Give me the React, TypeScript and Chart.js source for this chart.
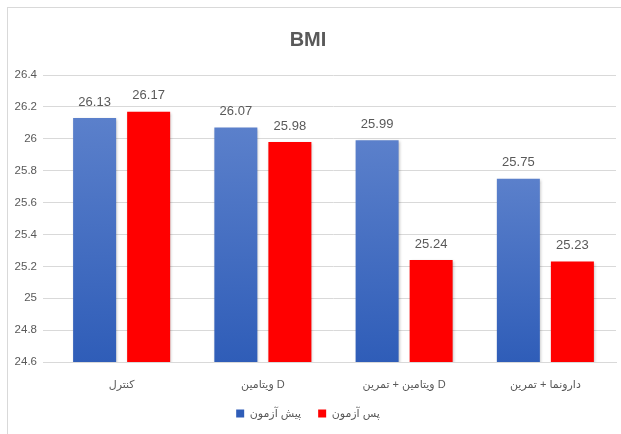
import React, { useEffect, useRef } from "react";
import { Chart, registerables } from "chart.js";

Chart.register(...registerables);

const LRM = "\u200E";
const categories = [
  LRM + "کنترل",
  LRM + "ویتامین D",
  LRM + "تمرین" + LRM + " + ویتامین D",
  LRM + "تمرین" + LRM + " + دارونما",
];
const seriesNames = ["پیش آزمون", "پس آزمون"];
const preTest = [26.13, 26.07, 25.99, 25.75];
const postTest = [26.17, 25.98, 25.24, 25.23];
const yMin = 24.6;
const yMax = 26.4;
const yStep = 0.2;

const FONT = "'Liberation Sans', 'DejaVu Sans', Arial, sans-serif";
const TEXT = "#595959";
const GRID = "#d9d9d9";

const blueGradient = (ctx: any) => {
  const chart = ctx.chart;
  const area = chart.chartArea;
  if (!area || ctx.raw === undefined || !chart.scales?.y) return "#4472c4";
  const top = chart.scales.y.getPixelForValue(ctx.raw);
  const bottom = area.bottom;
  if (!isFinite(top) || !isFinite(bottom) || bottom <= top) return "#4472c4";
  const g = chart.ctx.createLinearGradient(0, top, 0, bottom);
  g.addColorStop(0, "#5b80cb");
  g.addColorStop(1, "#2f5db8");
  return g;
};

const shadowPlugin = {
  id: "barShadow",
  beforeDatasetsDraw(chart: any) {
    const c = chart.ctx;
    c.save();
    c.shadowColor = "rgba(0,0,0,0.28)";
    c.shadowBlur = 3;
    c.shadowOffsetX = 1;
    c.shadowOffsetY = 1;
  },
  afterDatasetsDraw(chart: any) {
    chart.ctx.restore();
  },
};

const valueLabels = {
  id: "valueLabels",
  afterDatasetsDraw(chart: any) {
    const c = chart.ctx;
    c.save();
    c.font = `13px ${FONT}`;
    c.fillStyle = "#595959";
    c.textAlign = "center";
    c.textBaseline = "middle";
    chart.data.datasets.forEach((ds: any, di: number) => {
      const meta = chart.getDatasetMeta(di);
      meta.data.forEach((bar: any, i: number) => {
        c.fillText(Number(ds.data[i]).toFixed(2), bar.x, bar.y - 16);
      });
    });
    c.restore();
  },
};

export default function App() {
  const ref = useRef<HTMLCanvasElement>(null);
  useEffect(() => {
    if (!ref.current) return;
    const chart = new Chart(ref.current, {
      type: "bar",
      data: {
        labels: categories,
        datasets: [
          {
            label: seriesNames[0],
            data: preTest,
            backgroundColor: blueGradient,
            borderWidth: 0,
          },
          {
            label: seriesNames[1],
            data: postTest,
            backgroundColor: "#ff0000",
            borderWidth: 0,
          },
        ],
      },
      options: {
        responsive: false,
        animation: false,
        layout: { padding: { left: 0, right: 5, top: 0, bottom: 5 } },
        datasets: {
          bar: { categoryPercentage: 0.765, barPercentage: 0.796 },
        },
        plugins: {
          title: {
            display: true,
            text: "BMI",
            color: TEXT,
            font: { family: FONT, size: 20, weight: "bold" },
            padding: { top: 28, bottom: 23 },
          },
          legend: {
            position: "bottom",
            labels: {
              color: TEXT,
              font: { family: FONT, size: 11 },
              boxWidth: 8,
              boxHeight: 8,
              padding: 17,
            },
          },
          tooltip: { enabled: false },
        },
        scales: {
          x: {
            grid: { display: false, drawTicks: false },
            border: { display: true, color: GRID, width: 1 },
            ticks: {
              color: TEXT,
              font: { family: FONT, size: 11 },
              padding: 16,
              maxRotation: 0,
            },
            afterFit(scale: any) {
              scale.height = 29;
            },
          },
          y: {
            min: yMin,
            max: yMax,
            grid: { color: GRID, tickLength: 8, drawTicks: true },
            border: { display: false },
            ticks: {
              stepSize: yStep,
              color: TEXT,
              font: { family: FONT, size: 11.5 },
              padding: 6,
              callback: (v: any) => String(Number(Number(v).toFixed(1))),
            },
            afterFit(scale: any) {
              scale.width = 51;
            },
          },
        },
      },
      plugins: [shadowPlugin, valueLabels],
    });
    return () => chart.destroy();
  }, []);

  return (
    <div
      style={{
        position: "absolute",
        left: 0,
        top: 0,
        width: 621,
        height: 434,
        background: "#fff",
        overflow: "hidden",
      }}
    >
      <div
        style={{
          position: "absolute",
          left: 7,
          top: 7,
          width: 640,
          height: 460,
          border: `1px solid ${GRID}`,
          boxSizing: "border-box",
        }}
      />
      <canvas
        ref={ref}
        width={621}
        height={434}
        style={{ position: "absolute", left: 0, top: 0 }}
      />
    </div>
  );
}
